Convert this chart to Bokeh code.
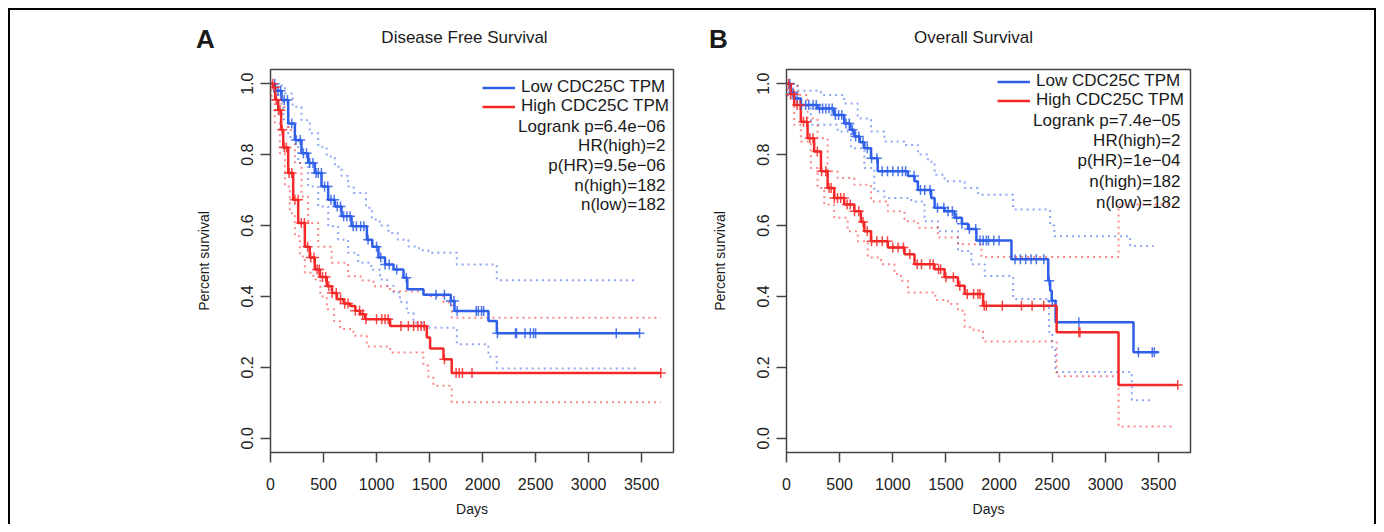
import numpy as np
from bokeh.plotting import figure
from bokeh.models import Label, Legend, LegendItem, Range1d, FixedTicker, NumeralTickFormatter
from bokeh.layouts import row, column
from bokeh.embed import file_html
from bokeh.resources import INLINE

FONT = "Liberation Sans"
BLUE = "#2f5fe8"
RED = "#f42828"

# ---------------- Panel A : Disease Free Survival ----------------
A_low_t = [0, 41, 104, 167, 230, 292, 355, 418, 481, 544, 607, 670, 764, 909, 960, 1018, 1080, 1160, 1254, 1290, 1442, 1700, 1735, 2055, 2134, 3480]
A_low_s = [1.0, 0.98, 0.954, 0.888, 0.841, 0.804, 0.776, 0.748, 0.71, 0.673, 0.654, 0.626, 0.598, 0.56, 0.54, 0.51, 0.49, 0.476, 0.453, 0.42, 0.405, 0.387, 0.359, 0.331, 0.296, 0.296]
A_low_up_t = [0, 50, 136, 210, 292, 370, 450, 530, 607, 670, 732, 784, 900, 956, 1030, 1113, 1200, 1301, 1400, 1489, 1757, 2134, 3450]
A_low_up_s = [1.0, 0.995, 0.972, 0.935, 0.897, 0.86, 0.822, 0.795, 0.766, 0.74, 0.71, 0.692, 0.65, 0.617, 0.60, 0.579, 0.56, 0.541, 0.53, 0.523, 0.49, 0.446, 0.446]
A_low_lo_t = [0, 30, 73, 120, 167, 261, 355, 450, 544, 638, 732, 827, 950, 1032, 1100, 1160, 1220, 1285, 1348, 1442, 1757, 2055, 2134, 3474]
A_low_lo_s = [1.0, 0.975, 0.954, 0.90, 0.85, 0.776, 0.71, 0.654, 0.598, 0.56, 0.523, 0.495, 0.475, 0.448, 0.43, 0.411, 0.385, 0.354, 0.326, 0.312, 0.265, 0.23, 0.197, 0.197]

A_high_t = [0, 25, 45, 73, 100, 120, 167, 214, 261, 324, 370, 418, 465, 531, 580, 626, 690, 751, 800, 845, 893, 1128, 1474, 1505, 1631, 1709, 3680]
A_high_s = [1.0, 0.99, 0.955, 0.925, 0.87, 0.82, 0.748, 0.673, 0.607, 0.54, 0.51, 0.476, 0.455, 0.429, 0.41, 0.392, 0.38, 0.373, 0.36, 0.35, 0.336, 0.317, 0.284, 0.253, 0.223, 0.184, 0.184]
A_high_up_t = [0, 40, 104, 167, 230, 292, 355, 450, 575, 732, 850, 971, 1128, 1474, 1631, 1709, 3680]
A_high_up_s = [1.0, 0.99, 0.935, 0.869, 0.776, 0.682, 0.607, 0.54, 0.495, 0.457, 0.445, 0.429, 0.415, 0.401, 0.383, 0.34, 0.34]
A_high_lo_t = [0, 9, 41, 88, 136, 183, 230, 277, 324, 405, 470, 531, 600, 657, 782, 908, 1128, 1442, 1489, 1536, 1663, 1709, 3680]
A_high_lo_s = [1.0, 0.954, 0.888, 0.804, 0.71, 0.635, 0.57, 0.513, 0.467, 0.448, 0.40, 0.364, 0.33, 0.308, 0.289, 0.259, 0.242, 0.205, 0.172, 0.148, 0.148, 0.102, 0.102]

A_low_cens = [40, 70, 95, 130, 160, 200, 240, 280, 310, 340, 370, 400, 430, 450, 480, 510, 540, 570, 600, 630, 660, 690, 720, 750, 780, 810, 850, 880, 920, 1000, 1040, 1080, 1120, 1190, 1280, 1560, 1640, 1700, 1730, 1760, 1940, 1960, 1990, 2010, 2140, 2310, 2320, 2400, 2450, 2480, 2500, 3260, 3480]
A_high_cens = [20, 35, 55, 75, 90, 110, 130, 150, 175, 200, 230, 260, 290, 320, 350, 380, 410, 440, 460, 490, 520, 550, 580, 620, 660, 700, 730, 800, 840, 870, 900, 1000, 1050, 1080, 1110, 1230, 1300, 1350, 1390, 1420, 1450, 1640, 1750, 1780, 1810, 1900, 3680]

A_stats = ["Logrank p=6.4e\u221206", "HR(high)=2", "p(HR)=9.5e\u221206", "n(high)=182", "n(low)=182"]

# ---------------- Panel B : Overall Survival ----------------
B_low_t = [0, 40, 72, 135, 292, 449, 543, 600, 638, 690, 732, 795, 858, 1142, 1204, 1236, 1361, 1393, 1487, 1581, 1650, 1708, 1786, 2116, 2462, 2480, 2495, 2531, 3264, 3500]
B_low_s = [1.0, 0.975, 0.958, 0.94, 0.93, 0.912, 0.888, 0.87, 0.851, 0.835, 0.818, 0.79, 0.753, 0.74, 0.725, 0.70, 0.678, 0.65, 0.64, 0.622, 0.605, 0.59, 0.558, 0.505, 0.444, 0.416, 0.388, 0.327, 0.243, 0.243]
B_low_up_t = [0, 104, 324, 543, 670, 795, 921, 1110, 1236, 1330, 1393, 1487, 1676, 1802, 2132, 2480, 2519, 3232, 3453]
B_low_up_s = [1.0, 0.98, 0.968, 0.944, 0.902, 0.865, 0.837, 0.827, 0.80, 0.78, 0.743, 0.725, 0.706, 0.687, 0.645, 0.60, 0.57, 0.542, 0.542]
B_low_lo_t = [0, 9, 72, 229, 480, 607, 732, 826, 921, 1173, 1298, 1425, 1613, 1739, 1864, 2132, 2470, 2500, 2528, 3248, 3437]
B_low_lo_s = [1.0, 0.968, 0.94, 0.884, 0.865, 0.818, 0.762, 0.697, 0.678, 0.668, 0.612, 0.584, 0.528, 0.491, 0.458, 0.393, 0.30, 0.257, 0.187, 0.107, 0.107]

B_high_t = [0, 40, 72, 135, 198, 260, 324, 387, 449, 543, 638, 700, 732, 795, 953, 1110, 1204, 1392, 1487, 1613, 1676, 1849, 2541, 3123, 3680]
B_high_s = [1.0, 0.97, 0.94, 0.893, 0.846, 0.809, 0.753, 0.706, 0.678, 0.659, 0.64, 0.61, 0.584, 0.556, 0.538, 0.519, 0.491, 0.477, 0.454, 0.43, 0.407, 0.374, 0.299, 0.15, 0.15]
B_high_up_t = [0, 104, 198, 292, 387, 480, 638, 795, 953, 1110, 1236, 1425, 1613, 1833, 3123, 3688]
B_high_up_s = [1.0, 0.968, 0.902, 0.846, 0.753, 0.734, 0.715, 0.668, 0.64, 0.612, 0.594, 0.566, 0.547, 0.511, 0.659, 0.659]
B_high_lo_t = [0, 9, 72, 135, 229, 292, 355, 449, 575, 670, 764, 890, 1015, 1078, 1142, 1400, 1519, 1613, 1676, 1760, 1849, 2541, 3123, 3657]
B_high_lo_s = [1.0, 0.958, 0.884, 0.837, 0.762, 0.706, 0.659, 0.622, 0.584, 0.556, 0.51, 0.491, 0.463, 0.444, 0.411, 0.39, 0.379, 0.36, 0.313, 0.304, 0.273, 0.175, 0.033, 0.033]

B_low_cens = [30, 60, 100, 140, 180, 210, 250, 280, 310, 340, 370, 400, 430, 460, 490, 520, 560, 590, 620, 650, 680, 720, 760, 800, 850, 900, 950, 1000, 1050, 1090, 1120, 1200, 1260, 1300, 1350, 1420, 1480, 1520, 1560, 1600, 1650, 1720, 1780, 1820, 1850, 1880, 1900, 1950, 2000, 2150, 2200, 2250, 2300, 2350, 2420, 2470, 2500, 2750, 3310, 3440, 3460]
B_high_cens = [20, 40, 70, 100, 130, 160, 190, 220, 250, 290, 330, 370, 400, 420, 450, 480, 510, 540, 570, 600, 640, 680, 720, 760, 800, 850, 900, 950, 1000, 1050, 1100, 1160, 1230, 1270, 1350, 1380, 1430, 1450, 1500, 1570, 1630, 1700, 1760, 1800, 1820, 1860, 1880, 2030, 2210, 2310, 2420, 2750, 2760, 3680]

B_stats = ["Logrank p=7.4e\u221205", "HR(high)=2", "p(HR)=1e\u221204", "n(high)=182", "n(low)=182"]

x_ticks = [0, 500, 1000, 1500, 2000, 2500, 3000, 3500]
y_ticks = [0.0, 0.2, 0.4, 0.6, 0.8, 1.0]
legend_labels = ["Low CDC25C TPM", "High CDC25C TPM"]
panel_letters = ["A", "B"]
panel_titles = ["Disease Free Survival", "Overall Survival"]

HEAD_H = 52
FIG_H = 462


def step_at(t, s, q):
    t = np.asarray(t)
    s = np.asarray(s)
    idx = np.searchsorted(t, np.asarray(q), side="right") - 1
    idx = np.clip(idx, 0, len(s) - 1)
    return s[idx]


def add_label(p, x, y, text, size, align="center", bold=False, units="data"):
    p.add_layout(Label(x=x, y=y, x_units=units, y_units=units, text=text,
                       text_font=FONT, text_font_size=size, text_align=align,
                       text_baseline="middle", text_color="#1a1a1a",
                       text_font_style="bold" if bold else "normal"))


# header strip holding panel letters and titles
head = figure(width=1364, height=HEAD_H, x_range=Range1d(0, 1364), y_range=Range1d(HEAD_H, 0),
              output_backend="svg", toolbar_location=None, min_border=0,
              x_axis_location=None, y_axis_location=None)
head.outline_line_color = None
head.xgrid.visible = False
head.ygrid.visible = False
for (lx, ly), (tx, ty), letter, title in zip([(195, 28), (708, 28)], [(454, 27), (963, 27)],
                                             panel_letters, panel_titles):
    add_label(head, lx, ly, letter, "26px", bold=True)
    add_label(head, tx, ty, title, "17px")


def make_panel(cfg):
    p = figure(width=cfg["w"], height=FIG_H, x_range=Range1d(0, 3800), y_range=Range1d(-0.04, 1.04),
               output_backend="svg", toolbar_location=None,
               min_border_left=cfg["bl"], min_border_right=cfg["br"],
               min_border_top=cfg["bt"], min_border_bottom=cfg["bb"])
    p.background_fill_color = "white"
    p.border_fill_color = "white"
    p.outline_line_color = "#444444"
    p.outline_line_width = 1.5
    p.xgrid.visible = False
    p.ygrid.visible = False

    for ax, ticks in ((p.xaxis[0], x_ticks), (p.yaxis[0], y_ticks)):
        ax.ticker = FixedTicker(ticks=ticks)
        ax.axis_line_color = None
        ax.major_tick_line_color = "#444444"
        ax.major_tick_line_width = 1.5
        ax.major_tick_out = 10
        ax.major_tick_in = 0
        ax.minor_tick_line_color = None
        ax.major_label_text_font = FONT
        ax.major_label_text_font_size = "16px"
        ax.major_label_text_color = "#222222"
        ax.axis_label_text_font = FONT
        ax.axis_label_text_font_size = "14px"
        ax.axis_label_text_font_style = "normal"
        ax.axis_label_text_color = "#1a1a1a"
    p.xaxis.major_label_standoff = 15
    p.yaxis.major_label_standoff = 7
    p.yaxis.major_label_orientation = "vertical"
    p.yaxis.formatter = NumeralTickFormatter(format="0.0")
    p.xaxis.axis_label = "Days"
    p.yaxis.axis_label = "Percent survival"
    p.xaxis.axis_label_standoff = 8
    p.yaxis.axis_label_standoff = 27

    # confidence bands (dotted)
    for (t, s, c) in cfg["ci"]:
        p.step(t, s, mode="after", line_color=c, line_alpha=0.55, line_width=2, line_dash="2 4")

    r_low = p.step(cfg["low_t"], cfg["low_s"], mode="after", line_color=BLUE, line_width=2.5)
    r_high = p.step(cfg["high_t"], cfg["high_s"], mode="after", line_color=RED, line_width=2.5)

    p.scatter(cfg["low_c"], step_at(cfg["low_t"], cfg["low_s"], cfg["low_c"]), marker="cross",
              size=10, line_color=BLUE, line_width=1.5, line_alpha=0.85)
    p.scatter(cfg["high_c"], step_at(cfg["high_t"], cfg["high_s"], cfg["high_c"]), marker="cross",
              size=10, line_color=RED, line_width=1.5, line_alpha=0.85)

    for lbl, rend, loc in zip(legend_labels, [r_low, r_high], cfg["leg"]):
        leg = Legend(items=[LegendItem(label=lbl, renderers=[rend])],
                     location=loc, orientation="vertical",
                     label_text_font=FONT, label_text_font_size="17px", label_text_color="#1a1a1a",
                     glyph_width=33, glyph_height=15, label_height=15, label_standoff=6,
                     spacing=0, padding=0, margin=0,
                     border_line_alpha=0, background_fill_alpha=0)
        p.add_layout(leg)

    for i, txt in enumerate(cfg["stats"]):
        add_label(p, cfg["sx"], cfg["sy"][i], txt, "17px", align="right", units="canvas")
    return p


pA = make_panel(dict(
    w=690, bl=260, br=27, bt=7, bb=68,
    low_t=A_low_t, low_s=A_low_s, high_t=A_high_t, high_s=A_high_s,
    low_c=A_low_cens, high_c=A_high_cens,
    ci=[(A_low_up_t, A_low_up_s, BLUE), (A_low_lo_t, A_low_lo_s, BLUE),
        (A_high_up_t, A_high_up_s, RED), (A_high_lo_t, A_high_lo_s, RED)],
    leg=[(212, 355), (212, 336)],
    stats=A_stats, sx=655, sy=[63.5, 83.2, 102.9, 122.6, 142.3],
))

pB = make_panel(dict(
    w=674, bl=86, br=184, bt=2, bb=72,
    low_t=B_low_t, low_s=B_low_s, high_t=B_high_t, high_s=B_high_s,
    low_c=B_low_cens, high_c=B_high_cens,
    ci=[(B_low_up_t, B_low_up_s, BLUE), (B_low_lo_t, B_low_lo_s, BLUE),
        (B_high_up_t, B_high_up_s, RED), (B_high_lo_t, B_high_lo_s, RED)],
    leg=[(211, 361), (211, 342)],
    stats=B_stats, sx=480, sy=[58, 77.5, 97.5, 118.5, 139.5],
))

layout = column(head, row(pA, pB, spacing=0), spacing=0, margin=(8, 0, 0, 8),
                styles={"border-top": "2px solid black", "border-left": "2px solid black",
                        "border-right": "2px solid black"})

open("out.html", "w").write(file_html(layout, INLINE))
